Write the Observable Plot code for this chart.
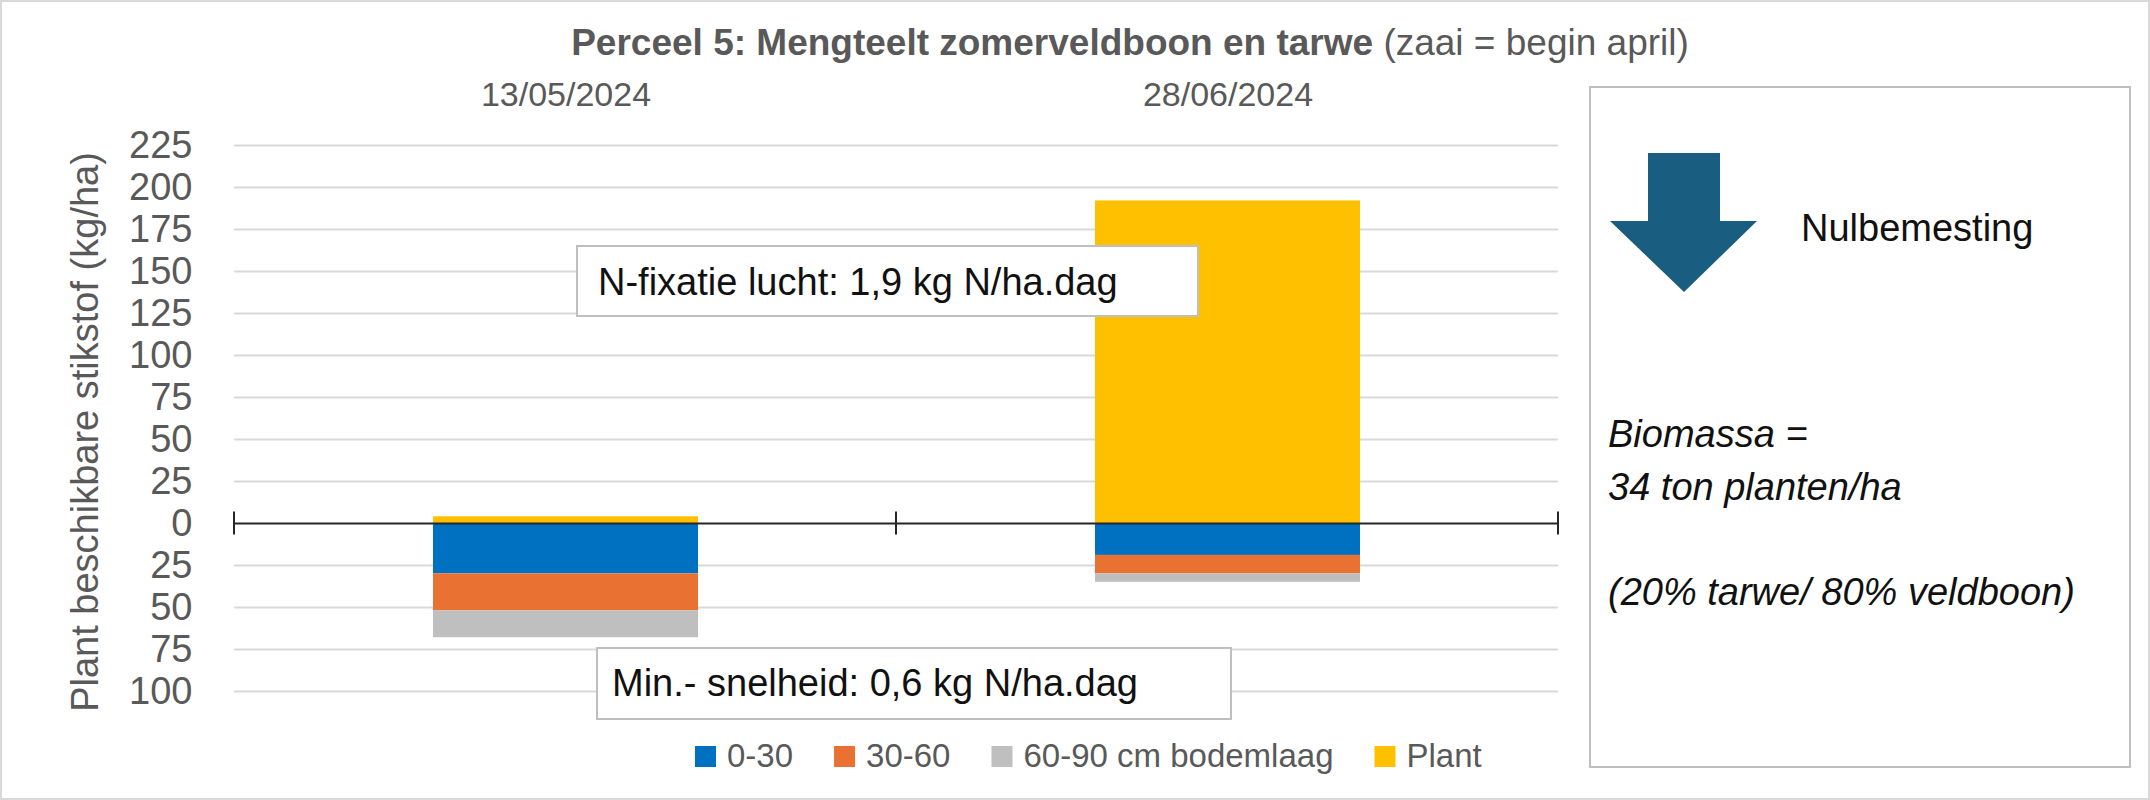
<!DOCTYPE html>
<html>
<head>
<meta charset="utf-8">
<script src="https://cdn.jsdelivr.net/npm/d3@7"></script>
<script src="https://cdn.jsdelivr.net/npm/@observablehq/plot@0.6"></script>
<style>
  html, body { margin: 0; padding: 0; background: #fff; }
  #wrap { position: relative; width: 2150px; height: 800px; overflow: hidden; }
  #wrap svg { position: absolute; left: 0; top: 0; }
</style>
</head>
<body>
<div id="wrap"></div>
<script>
// ---- data ----
const dates = ["13/05/2024", "28/06/2024"];
const series = ["0-30", "30-60", "60-90 cm bodemlaag", "Plant"];
const layer0_30 = [30, 19];
const layer30_60 = [22, 11];
const layer60_90 = [16, 5];
const plant = [4, 192];
const seriesColors = ["#0070C0", "#E97132", "#BFBFBF", "#FFC000"];
const yTicks = [-100, -75, -50, -25, 0, 25, 50, 75, 100, 125, 150, 175, 200, 225];

const titleBold = "Perceel 5: Mengteelt zomerveldboon en tarwe";
const titleRest = "(zaai = begin april)";
const yTitle = "Plant beschikbare stikstof (kg/ha)";
const noteFix = "N-fixatie lucht: 1,9 kg N/ha.dag";
const noteMin = "Min.- snelheid: 0,6 kg N/ha.dag";
const panelHead = "Nulbemesting";
const panelLines = ["Biomassa =", "34 ton planten/ha", "", "(20% tarwe/ 80% veldboon)"];

// table for the library (soil layers drawn below zero)
const rows = [];
dates.forEach((d, i) => {
  rows.push({date: d, series: series[0], value: -layer0_30[i]});
  rows.push({date: d, series: series[1], value: -layer30_60[i]});
  rows.push({date: d, series: series[2], value: -layer60_90[i]});
  rows.push({date: d, series: series[3], value: plant[i]});
});

const FONT = "'Liberation Sans', Arial, sans-serif";

const chart = Plot.plot({
  width: 2150,
  height: 800,
  marginLeft: 234,
  marginRight: 592,
  marginTop: 145,
  marginBottom: 109,
  style: {fontFamily: FONT, background: "transparent", color: "#595959", overflow: "visible"},
  x: {type: "band", domain: dates, paddingInner: 0.6, paddingOuter: 0.3, axis: null},
  y: {domain: [-100, 225], axis: null},
  color: {domain: series, range: seriesColors},
  marks: [
    Plot.ruleY(yTicks.filter(t => t !== 0), {stroke: "#d9d9d9", strokeWidth: 2}),
    Plot.barY(rows, Plot.stackY({x: "date", y: "value", fill: "series"})),
    Plot.ruleY([0], {stroke: "#262626", strokeWidth: 2}),
    (index, scales, values, dims) => {
      const g = d3.create("svg:g");
      const y0 = scales.y(0);
      const l = dims.marginLeft, r = dims.width - dims.marginRight;
      [l, (l + r) / 2, r].forEach(x => {
        g.append("line").attr("x1", x).attr("x2", x)
          .attr("y1", y0 - 11.5).attr("y2", y0 + 11.5)
          .attr("stroke", "#262626").attr("stroke-width", 2);
      });
      return g.node();
    },
    Plot.axisY({ticks: yTicks, tickFormat: d => Math.abs(d), tickSize: 0, tickPadding: 42, fontSize: 38, label: null}),
    Plot.text(dates, {x: d => d, y: () => 225, text: d => d, lineAnchor: "bottom", dy: -40, fontSize: 34, fill: "#595959"})
  ]
});
document.getElementById("wrap").appendChild(chart);

// ---- overlay: title, axis title, notes, side panel, legend ----
const ov = d3.select("#wrap").append("svg")
  .attr("width", 2150).attr("height", 800)
  .style("font-family", FONT)
  .style("pointer-events", "none");

ov.append("rect").attr("x", 1).attr("y", 1).attr("width", 2148).attr("height", 798)
  .attr("fill", "none").attr("stroke", "#d9d9d9").attr("stroke-width", 2);

const t = ov.append("text").attr("x", 1130).attr("y", 55).attr("text-anchor", "middle")
  .attr("font-size", 37).attr("fill", "#595959").style("white-space", "pre");
t.append("tspan").attr("font-weight", "bold").text(titleBold + " ");
t.append("tspan").text(titleRest);

ov.append("text").attr("transform", "translate(98,432) rotate(-90)")
  .attr("text-anchor", "middle").attr("font-size", 38).attr("fill", "#595959").text(yTitle);

function note(x, y, w, h, tx, ty, label) {
  ov.append("rect").attr("x", x).attr("y", y).attr("width", w).attr("height", h)
    .attr("fill", "#fff").attr("stroke", "#bfbfbf").attr("stroke-width", 2);
  ov.append("text").attr("x", tx).attr("y", ty).attr("font-size", 38).attr("fill", "#111").text(label);
}
note(577, 246, 621, 70, 598, 295, noteFix);
note(597, 648, 634, 71, 612, 696, noteMin);

// side panel
ov.append("rect").attr("x", 1590).attr("y", 87).attr("width", 540).attr("height", 680)
  .attr("fill", "#fff").attr("stroke", "#bfbfbf").attr("stroke-width", 2);
ov.append("polygon")
  .attr("points", "1648,153 1720,153 1720,221 1757,221 1684,292 1610,221 1648,221")
  .attr("fill", "#195E80");
ov.append("text").attr("x", 1801).attr("y", 241).attr("font-size", 38).attr("fill", "#111").text(panelHead);
const pt = ov.append("text").attr("font-size", 38).attr("font-style", "italic").attr("fill", "#111");
panelLines.forEach((s, i) => {
  pt.append("tspan").attr("x", 1608).attr("y", 447 + i * 52.7).text(s);
});

// legend
const lg = ov.append("g").attr("font-size", 33).attr("fill", "#595959");
let lx = 695;
series.forEach((s, i) => {
  lg.append("rect").attr("x", lx).attr("y", 746).attr("width", 21).attr("height", 21).attr("fill", seriesColors[i]);
  const tx = lg.append("text").attr("x", lx + 32).attr("y", 767).text(s);
  lx = lx + 32 + tx.node().getComputedTextLength() + 41;
});
</script>
</body>
</html>
